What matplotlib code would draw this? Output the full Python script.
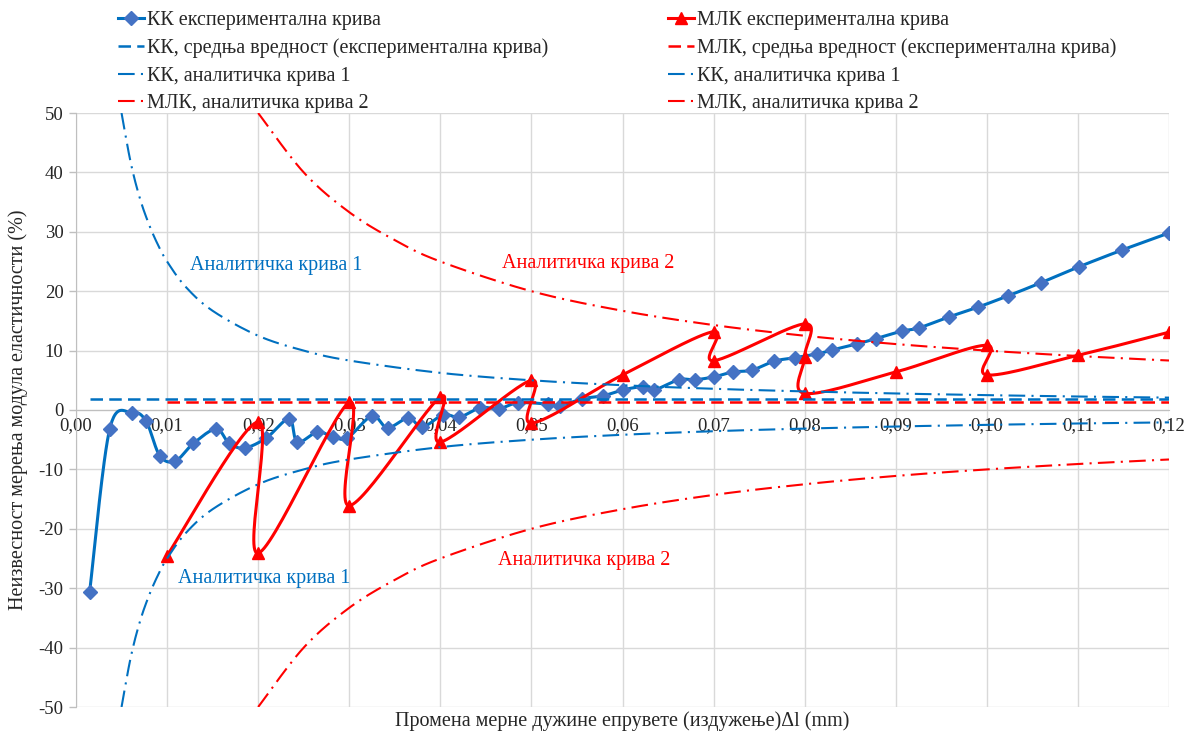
import numpy as np
import matplotlib
matplotlib.use("Agg")
import matplotlib.pyplot as plt

# --- data -------------------------------------------------------------
# КК experimental curve: elongation Δl (mm) and uncertainty (%)
kk_dl = [0.0015, 0.0037, 0.0062, 0.0077, 0.0092, 0.0109, 0.0129, 0.0154,
         0.0168, 0.0185, 0.0209, 0.0234, 0.0243, 0.0265, 0.0282, 0.0298,
         0.0325, 0.0342, 0.0365, 0.0380, 0.0403, 0.0421, 0.0444, 0.0464,
         0.0485, 0.0518, 0.0531, 0.0556, 0.0579, 0.0601, 0.0622, 0.0635,
         0.0662, 0.0680, 0.0701, 0.0721, 0.0742, 0.0766, 0.0789, 0.0813,
         0.0830, 0.0857, 0.0878, 0.0907, 0.0925, 0.0959, 0.0990, 0.1023,
         0.1059, 0.1101, 0.1148, 0.1200]
kk_u = [-30.6, -3.2, -0.5, -1.9, -7.7, -8.6, -5.6, -3.2,
        -5.6, -6.4, -4.7, -1.5, -5.4, -3.7, -4.5, -4.7,
        -1.0, -3.0, -1.3, -2.9, -0.8, -1.2, 0.4, 0.2,
        1.2, 1.0, 0.7, 1.9, 2.4, 3.4, 3.9, 3.4,
        5.1, 5.1, 5.6, 6.4, 6.7, 8.2, 8.8, 9.4,
        10.1, 11.1, 12.0, 13.3, 13.8, 15.7, 17.3, 19.2,
        21.4, 24.1, 26.9, 29.8]

# МЛК experimental curve
mlk_dl = [0.01, 0.02, 0.02, 0.03, 0.03, 0.04, 0.04, 0.05, 0.05, 0.06,
          0.07, 0.07, 0.08, 0.08, 0.08, 0.09, 0.10, 0.10, 0.11, 0.12]
mlk_u = [-24.5, -2.0, -24.1, 1.3, -16.1, 2.2, -5.4, 5.0, -2.2, 5.9,
         13.2, 8.3, 14.5, 9.0, 2.8, 6.4, 10.9, 5.9, 9.2, 13.1]

# mean values of the experimental curves (%)
kk_mean = 1.9
mlk_mean = 1.4

# analytical curve 1 (КК)
an1_dl = [0.005, 0.006, 0.007, 0.008, 0.009, 0.010, 0.012, 0.015, 0.020,
          0.025, 0.030, 0.040, 0.050, 0.060, 0.070, 0.080, 0.090, 0.100,
          0.110, 0.120]
an1_upper = [50.0, 41.7, 35.7, 31.3, 27.8, 25.0, 20.8, 16.7, 12.5,
             10.0, 8.33, 6.25, 5.0, 4.17, 3.57, 3.13, 2.78, 2.5,
             2.27, 2.08]
an1_lower = [-50.0, -41.7, -35.7, -31.3, -27.8, -25.0, -20.8, -16.7, -12.5,
             -10.0, -8.33, -6.25, -5.0, -4.17, -3.57, -3.13, -2.78, -2.5,
             -2.27, -2.08]

# analytical curve 2 (МЛК)
an2_dl = [0.020, 0.025, 0.030, 0.035, 0.040, 0.050, 0.060, 0.070, 0.080,
          0.090, 0.100, 0.110, 0.120]
an2_upper = [50.0, 40.0, 33.3, 28.6, 25.0, 20.0, 16.7, 14.3, 12.5,
             11.1, 10.0, 9.09, 8.33]
an2_lower = [-50.0, -40.0, -33.3, -28.6, -25.0, -20.0, -16.7, -14.3, -12.5,
             -11.1, -10.0, -9.09, -8.33]

x_ticks = [0.00, 0.01, 0.02, 0.03, 0.04, 0.05, 0.06, 0.07, 0.08, 0.09,
           0.10, 0.11, 0.12]
y_ticks = [-50, -40, -30, -20, -10, 0, 10, 20, 30, 40, 50]

# --- style ------------------------------------------------------------
plt.rcParams["font.family"] = ["Liberation Serif", "DejaVu Serif"]

BLUE = "#0070C0"
BLUE_MK = "#4472C4"
RED = "#FF0000"
GRID = "#D9D9D9"
TXT = "#262626"

W, H = 1191, 731
fig = plt.figure(figsize=(W / 100, H / 100), dpi=100)
ax_l, ax_b, ax_w, ax_h = 76, 707, 1093, 594
ax = fig.add_axes([ax_l / W, 1 - ax_b / H, ax_w / W, ax_h / H])
XMIN, XMAX, YMIN, YMAX = 0.0, 0.12, -50, 50
ax.set_xlim(XMIN, XMAX)
ax.set_ylim(YMIN, YMAX)


def smooth(x, y, n=30):
    """Catmull-Rom smoothing done in screen proportions."""
    sx = ax_w / (XMAX - XMIN)
    sy = ax_h / (YMAX - YMIN)
    P = np.column_stack([np.asarray(x, float) * sx, np.asarray(y, float) * sy])
    Pext = np.vstack([P[0], P, P[-1]])
    t = np.linspace(0, 1, n)[:, None]
    out = [P[:1]]
    for i in range(len(P) - 1):
        p0, p3 = Pext[i + 1], Pext[i + 2]
        p1 = p0 + (Pext[i + 2] - Pext[i]) / 6.0
        p2 = p3 - (Pext[i + 3] - Pext[i + 1]) / 6.0
        seg = ((1 - t) ** 3) * p0 + 3 * ((1 - t) ** 2) * t * p1 \
            + 3 * (1 - t) * t ** 2 * p2 + t ** 3 * p3
        out.append(seg[1:])
    pts = np.vstack(out)
    return pts[:, 0] / sx, pts[:, 1] / sy


DASHDOT = (0, (8, 3, 1, 3))
DASHED = (0, (5, 2.5))

# experimental curves
h_kk, = ax.plot(*smooth(kk_dl, kk_u), color=BLUE, lw=2.2, zorder=3)
ax.plot(kk_dl, kk_u, ls="none", marker="D", ms=7.5, color=BLUE_MK, zorder=3)
h_mlk, = ax.plot(*smooth(mlk_dl, mlk_u), color=RED, lw=2.2, zorder=4)
ax.plot(mlk_dl, mlk_u, ls="none", marker="^", ms=9, color=RED, zorder=4)

# mean lines
h_kk_mean, = ax.plot([kk_dl[0], kk_dl[-1]], [kk_mean, kk_mean], color=BLUE,
                     lw=1.8, ls=DASHED, zorder=5)
h_mlk_mean, = ax.plot([mlk_dl[0], mlk_dl[-1]], [mlk_mean, mlk_mean],
                      color=RED, lw=1.8, ls=DASHED, zorder=5)

# analytical curves
h_an1u, = ax.plot(*smooth(an1_dl, an1_upper), color=BLUE, lw=1.5,
                  ls=DASHDOT, zorder=6)
h_an1l, = ax.plot(*smooth(an1_dl, an1_lower), color=BLUE, lw=1.5,
                  ls=DASHDOT, zorder=6)
h_an2u, = ax.plot(*smooth(an2_dl, an2_upper), color=RED, lw=1.5,
                  ls=DASHDOT, zorder=6)
h_an2l, = ax.plot(*smooth(an2_dl, an2_lower), color=RED, lw=1.5,
                  ls=DASHDOT, zorder=6)

# legend proxies with markers
h_kk_leg, = ax.plot([], [], color=BLUE, lw=2.2, marker="D", ms=7,
                    mfc=BLUE_MK, mec=BLUE_MK)
h_mlk_leg, = ax.plot([], [], color=RED, lw=2.2, marker="^", ms=9)

# axes, grid, ticks
ax.set_xticks(x_ticks)
ax.set_yticks(y_ticks)
ax.set_xticklabels([f"{v:.2f}".replace(".", ",") for v in x_ticks])
ax.set_yticklabels([str(v) for v in y_ticks])
ax.grid(True, color=GRID, lw=1.0, zorder=0)
ax.set_axisbelow(True)
for s in ("top", "right"):
    ax.spines[s].set_visible(False)
ax.spines["bottom"].set_position(("data", 0))
ax.spines["bottom"].set_color("#BFBFBF")
ax.spines["left"].set_color("#BFBFBF")
ax.tick_params(axis="x", length=0, pad=5, labelsize=13.5, labelcolor=TXT)
ax.tick_params(axis="y", length=5, width=1, color="#BFBFBF", pad=4,
               labelsize=13.5, labelcolor=TXT)

# curve captions
ax.text(0.0125, 24.4, "Аналитичка крива 1", color=BLUE, fontsize=14.5,
        ha="left", va="center")
ax.text(0.0112, -28.3, "Аналитичка крива 1", color=BLUE, fontsize=14.5,
        ha="left", va="center")
ax.text(0.0468, 24.7, "Аналитичка крива 2", color=RED, fontsize=14.5,
        ha="left", va="center")
ax.text(0.0463, -25.3, "Аналитичка крива 2", color=RED, fontsize=14.5,
        ha="left", va="center")

# axis titles
fig.text(18 / W, 1 - 410 / H, "Неизвесност мерења модула еластичности (%)",
         rotation=90, ha="center", va="center", fontsize=14.5, color=TXT)
fig.text(622 / W, 1 - 721 / H,
         "Промена мерне дужине епрувете (издужење)Δl (mm)",
         ha="center", va="center", fontsize=14.5, color=TXT)

# legend
handles = [h_kk_leg, h_kk_mean, h_an1u, h_an2u,
           h_mlk_leg, h_mlk_mean, h_an1l, h_an2l]
labels = ["КК експериментална крива",
          "КК, средња вредност (експериментална крива)",
          "КК, аналитичка крива 1",
          "МЛК, аналитичка крива 2",
          "МЛК експериментална крива",
          "МЛК, средња вредност (експериментална крива)",
          "КК, аналитичка крива 1",
          "МЛК, аналитичка крива 2"]
leg = fig.legend(handles, labels, ncol=2, loc="upper left",
                 bbox_to_anchor=(118 / W, 1 - 11 / H), frameon=False,
                 fontsize=14.5, handlelength=1.3, handletextpad=0.15,
                 labelspacing=0.42, columnspacing=5.95, borderpad=0,
                 borderaxespad=0)
for t in leg.get_texts():
    t.set_color(TXT)

fig.savefig("out.png", dpi=100)
